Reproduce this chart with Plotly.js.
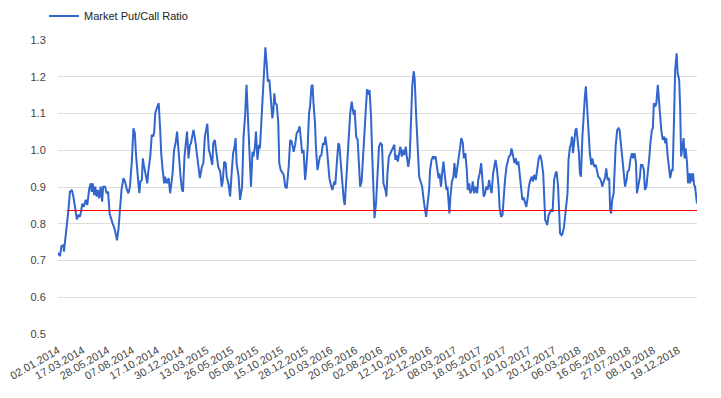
<!DOCTYPE html>
<html>
<head>
<meta charset="utf-8">
<script src="https://cdn.plot.ly/plotly-3.0.1.min.js"></script>
<style>html,body{margin:0;padding:0;background:#fff;}#chart{width:721px;height:398px;}</style>
</head>
<body>
<div id="chart"></div>
<script>
// Trading-day index (0 = 02.01.2014) and market put/call ratio
const tradingDay = [
0,4,7,11,12,14,17,21,24,28,31,34,38,41,44,46,49,52,56,59,63,66,68,70,73,75,78,80,83,86,89,91,95,98,101,104,107,110,114,117,119,122,125,128,132,135,139,142,145,149,152,155,157,160,162,164,166,169,171,173,176,180,182,186,189,192,194,196,199,201,203,206,208,211,214,216,219,223,226,229,231,234,237,240,242,245,247,250,252,255,258,260,263,266,268,271,273,276,278,281,284,286,290,293,296,299,301,304,307,311,313,316,319,321,
323,327,330,332,335,338,340,344,347,350,353,356,358,360,364,367,371,374,377,380,383,386,389,392,394,397,399,402,405,407,410,412,414,416,418,421,423,426,428,430,432,434,436,438,441,444,446,449,452,455,458,461,465,468,471,475,478,481,485,487,490,492,495,498,500,503,506,508,511,513,515,518,520,523,526,528,531,534,537,539,542,545,547,550,553,557,559,562,565,567,570,573,576,578,581,584,586,589,592,594,596,598,601,604,606,609,612,615,617,620,623,625,628,631,633,636,638,
641,644,647,650,653,656,660,662,664,667,670,672,675,678,680,682,685,687,690,693,695,698,701,703,706,709,711,714,717,719,722,725,728,730,734,737,740,742,745,748,750,753,756,758,761,764,767,769,772,775,777,780,783,785,788,789,791,794,797,799,802,805,808,810,813,816,818,821,824,826,829,831,834,836,839,842,845,847,850,853,855,858,861,863,866,869,871,874,877,880,882,885,888,890,893,896,898,901,904,906,909,912,914,917,920,923,925,928,931,933,936,939,941,944,947,949,952,955,957,960,963,966,969,
972,975,978,980,982,984,986,989,992,994,997,1000,1003,1005,1008,1010,1012,1015,1017,1020,1023,1025,1027,1029,1032,1034,1036,1038,1040,1043,1045,1048,1050,1052,1054,1057,1060,1062,1064,1067,1070,1072,1075,1077,1079,1081,1084,1087,1089,1092,1095,1097,1100,1103,1105,1108,1111,1113,1115,1117,1120,1122,1124,1127,1130,1132,1135,1138,1140,1143,1146,1148,1151,1154,1157,1159,1162,1165,1167,1170,1173,1175,1178,1181,1183,1186,1189,1192,1194,1197,1199,1201,1204,1206,1209,1212,1214,1216,1219,1222,1224,1226,1229,1232,1234,1237,1239,1242,1244,1247,1249,1252,1254,1256,1259,1261,1263,1265,1268,1270,1272,1274,1276,1278,1280,1282,1284,1286,1288
];
const putCallRatio = [
0.721,0.712,0.739,0.742,0.724,0.746,0.792,0.837,0.887,0.892,0.874,0.846,0.812,0.824,0.819,0.830,0.855,0.846,0.865,0.851,0.896,0.910,0.887,0.910,0.878,0.901,0.874,0.892,0.869,0.901,0.860,0.901,0.901,0.883,0.887,0.828,0.810,0.801,0.787,0.769,0.755,0.787,0.833,0.892,0.924,0.915,0.892,0.883,0.901,0.974,1.060,1.046,0.992,0.928,0.910,0.883,0.915,0.919,0.978,0.960,0.933,0.910,0.942,0.983,1.042,1.037,1.051,1.101,1.114,1.124,1.128,1.055,0.992,0.946,0.910,0.928,0.910,0.924,0.883,0.915,0.937,1.001,1.019,1.051,1.010,0.974,0.928,0.892,0.887,0.983,1.037,1.051,0.978,1.015,1.019,1.042,1.055,1.033,1.010,0.974,0.946,0.924,0.955,0.965,1.037,1.065,1.072,1.001,0.987,0.960,1.019,1.028,1.001,0.978,
0.955,0.942,0.901,0.915,0.969,0.965,0.928,0.906,0.874,0.937,0.992,1.010,1.033,0.965,0.928,0.865,0.901,1.037,1.092,1.178,1.083,1.001,0.901,0.996,0.983,1.010,1.051,0.974,1.015,1.005,1.074,1.146,1.164,1.237,1.280,1.228,1.187,1.192,1.146,1.114,1.087,1.105,1.155,1.128,1.124,1.074,0.965,0.946,0.937,0.933,0.901,0.896,0.955,1.028,1.024,0.996,1.015,1.046,1.055,1.065,1.024,0.992,1.001,0.919,0.946,1.001,1.101,1.119,1.174,1.178,1.128,1.074,1.005,0.946,0.969,0.983,0.987,1.019,1.015,1.037,1.005,0.946,0.924,0.906,0.892,0.915,0.906,0.965,1.019,1.015,0.965,0.901,0.865,0.851,0.919,0.983,1.037,1.101,1.132,1.110,1.096,1.110,1.037,1.028,0.965,0.901,0.915,0.974,1.037,1.101,1.166,1.151,1.164,1.092,1.000,0.874,0.815,
0.855,0.946,1.010,1.019,1.015,0.910,0.892,0.874,0.937,0.983,0.992,0.996,1.005,1.015,0.974,0.987,0.969,0.987,1.010,0.983,1.001,0.987,1.010,0.983,0.955,0.983,1.092,1.174,1.215,1.192,1.092,0.983,0.928,0.919,0.901,0.865,0.833,0.819,0.855,0.892,0.946,0.974,0.983,0.978,0.983,0.955,0.924,0.937,0.901,0.946,0.969,0.928,0.892,0.901,0.855,0.828,0.874,0.915,0.928,0.965,0.924,0.955,0.992,1.005,1.033,1.019,0.978,0.992,0.946,0.892,0.910,0.883,0.892,0.915,0.883,0.901,0.883,0.919,0.937,0.965,0.928,0.874,0.883,0.901,0.892,0.919,0.901,0.883,0.937,0.955,0.974,0.946,0.901,0.846,0.819,0.824,0.865,0.919,0.955,0.965,0.983,0.987,1.005,0.987,0.965,0.978,0.960,0.969,0.928,0.892,0.865,0.869,0.860,0.846,0.874,0.901,0.919,0.928,0.915,0.933,0.919,0.946,0.978,
0.987,0.969,0.937,0.874,0.810,0.805,0.796,0.824,0.833,0.837,0.833,0.919,0.937,0.942,0.901,0.837,0.774,0.769,0.774,0.792,0.828,0.846,0.883,0.974,1.010,1.015,1.037,0.992,1.028,1.055,1.060,1.019,0.992,0.937,0.928,1.037,1.119,1.146,1.174,1.101,1.010,0.992,0.960,0.978,0.965,0.955,0.960,0.937,0.928,0.924,0.915,0.901,0.919,0.928,0.951,0.919,0.924,0.837,0.828,0.865,0.883,0.946,1.010,1.055,1.060,1.055,1.010,0.955,0.942,0.901,0.919,0.942,0.946,0.978,0.992,0.978,0.992,0.965,0.883,0.901,0.928,0.960,0.960,0.946,0.892,0.901,0.937,0.983,1.019,1.055,1.060,1.128,1.119,1.128,1.178,1.119,1.105,1.055,1.028,1.037,1.019,1.033,0.983,0.937,0.924,0.946,0.946,1.101,1.219,1.264,1.210,1.192,1.119,0.983,1.015,1.033,0.978,1.005,0.965,0.910,0.937,0.910,0.937,0.915,0.937,0.906,0.901,0.883,0.855
];
// Threshold (red reference line)
const thresholdValue = 0.836;
const thresholdStartDay = 18;
const lastDay = 1288;
// X tick labels: every 50 trading days
const tickDays = [0,50,100,150,200,250,300,350,400,450,500,550,600,650,700,750,800,850,900,950,1000,1050,1100,1150,1200,1250];
const tickLabels = ["02.01.2014","17.03.2014","28.05.2014","07.08.2014","17.10.2014","30.12.2014","13.03.2015","26.05.2015","05.08.2015","15.10.2015","28.12.2015","10.03.2016","20.05.2016","02.08.2016","12.10.2016","22.12.2016","08.03.2017","18.05.2017","31.07.2017","10.10.2017","20.12.2017","06.03.2018","16.05.2018","27.07.2018","08.10.2018","19.12.2018"];
const seriesName = "Market Put/Call Ratio";

const traces = [
  {x: tradingDay, y: putCallRatio, type: 'scatter', mode: 'lines', name: seriesName,
   line: {color: '#3366cc', width: 2}, hoverinfo: 'skip'},
  {x: [thresholdStartDay, lastDay], y: [thresholdValue, thresholdValue], type: 'scatter', mode: 'lines',
   showlegend: false, line: {color: '#ff0000', width: 1}, hoverinfo: 'skip'}
];
const layout = {
  width: 721, height: 398,
  margin: {l: 58, r: 24, t: 40, b: 64, autoexpand: false},
  paper_bgcolor: '#ffffff', plot_bgcolor: '#ffffff',
  font: {family: 'Arial, "Liberation Sans", sans-serif', size: 11, color: '#444'},
  showlegend: true,
  legend: {orientation: 'h', xref: 'container', yref: 'container', x: 44 / 721, xanchor: 'left',
           y: 1 - 16 / 398, yanchor: 'middle',
           font: {size: 11, color: '#222'}, bgcolor: 'rgba(0,0,0,0)'},
  xaxis: {range: [0, lastDay], tickmode: 'array', tickvals: tickDays, ticktext: tickLabels,
          tickangle: -30, showgrid: false, zeroline: false, showline: false, automargin: false,
          ticks: 'outside', ticklen: 5, tickcolor: 'rgba(0,0,0,0)', tickfont: {size: 11, color: '#444'}},
  yaxis: {range: [0.5, 1.3], dtick: 0.1, tick0: 0.5, tickformat: '.1f', showgrid: true, gridcolor: '#dddddd',
          gridwidth: 1, zeroline: false, showline: false, automargin: false,
          ticks: 'outside', ticklen: 9, tickcolor: 'rgba(0,0,0,0)', tickfont: {size: 11, color: '#444'}}
};
Plotly.newPlot('chart', traces, layout, {staticPlot: true, displayModeBar: false});
</script>
</body>
</html>
